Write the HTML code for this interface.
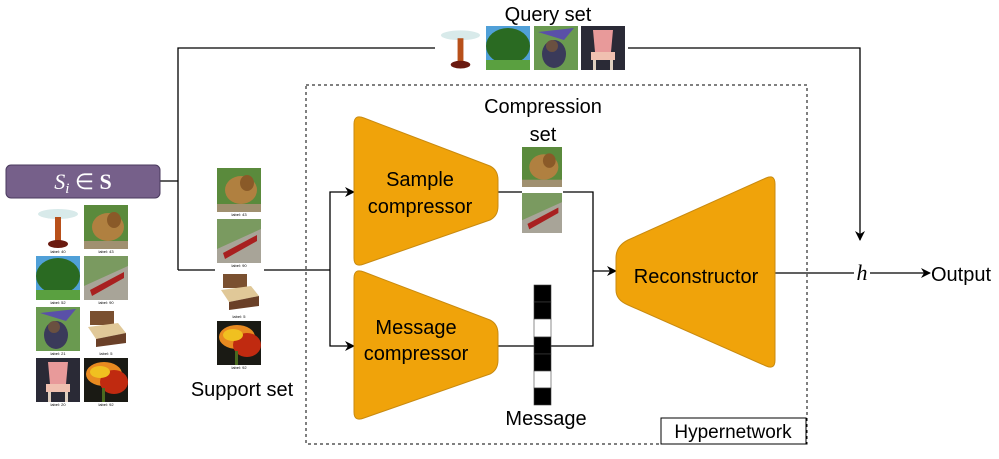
<!DOCTYPE html>
<html><head><meta charset="utf-8"><style>
html,body{margin:0;padding:0;background:#fff;width:999px;height:459px;overflow:hidden}
svg{display:block}
text{font-family:"Liberation Sans",sans-serif;fill:#000}
</style></head><body>
<svg width="999" height="459" viewBox="0 0 999 459" xmlns="http://www.w3.org/2000/svg">
<defs>
<marker id="ar" viewBox="0 0 10 10" refX="9" refY="5" markerWidth="10" markerHeight="10" orient="auto" markerUnits="userSpaceOnUse"><path d="M0,0 L10,5 L0,10 L3,5 z" fill="#000"/></marker>
<symbol id="lion" viewBox="0 0 44 44"><rect width="44" height="44" fill="#5a8a3c"/><ellipse cx="24" cy="22" rx="16" ry="14" fill="#b08040"/><ellipse cx="30" cy="15" rx="7" ry="8" fill="#8a5a28"/><rect y="36" width="44" height="8" fill="#a09070"/></symbol>
<symbol id="train" viewBox="0 0 44 44"><rect width="44" height="44" fill="#7a9a60"/><polygon points="0,30 44,10 44,44 0,44" fill="#a8a498"/><polygon points="6,34 40,16 40,22 8,40" fill="#a82020"/></symbol>
<symbol id="lamp" viewBox="0 0 44 44"><rect width="44" height="44" fill="#fff"/><ellipse cx="22" cy="9" rx="20" ry="5" fill="#d8eaea"/><rect x="19" y="12" width="6" height="24" fill="#b8501a"/><ellipse cx="22" cy="39" rx="10" ry="4" fill="#6a1a10"/></symbol>
<symbol id="tree" viewBox="0 0 44 44"><rect width="44" height="44" fill="#50a0d8"/><ellipse cx="22" cy="20" rx="22" ry="18" fill="#2a6a22"/><rect y="34" width="44" height="10" fill="#5aa040"/></symbol>
<symbol id="chimp" viewBox="0 0 44 44"><rect width="44" height="44" fill="#6a9a50"/><polygon points="4,6 40,2 30,14" fill="#5a50a8"/><ellipse cx="20" cy="28" rx="12" ry="14" fill="#3a3a5a"/><circle cx="18" cy="20" r="6" fill="#6a5040"/></symbol>
<symbol id="bed" viewBox="0 0 44 44"><rect width="44" height="44" fill="#fff"/><rect x="6" y="4" width="24" height="14" fill="#7a5030"/><polygon points="4,20 34,16 42,26 12,32" fill="#e0c898"/><polygon points="12,32 42,26 42,36 12,40" fill="#6a4028"/></symbol>
<symbol id="chair" viewBox="0 0 44 44"><rect width="44" height="44" fill="#2a2a36"/><polygon points="12,4 32,4 30,26 14,26" fill="#e89a9a"/><rect x="10" y="26" width="24" height="8" fill="#f0c0b0"/><rect x="12" y="34" width="3" height="10" fill="#e0d0c0"/><rect x="29" y="34" width="3" height="10" fill="#e0d0c0"/></symbol>
<symbol id="flower" viewBox="0 0 44 44"><rect width="44" height="44" fill="#1a1a14"/><ellipse cx="20" cy="16" rx="18" ry="12" fill="#e88a20"/><ellipse cx="30" cy="24" rx="14" ry="12" fill="#c02a10"/><ellipse cx="16" cy="14" rx="10" ry="6" fill="#f0c020"/><rect x="18" y="30" width="3" height="14" fill="#4a6a20"/></symbol>
</defs>

<g stroke="#000" stroke-width="1.3" fill="none">
<polyline points="160,181 178,181"/>
<polyline points="178,270 178,48 435,48"/>
<polyline points="628,48 860,48 860,240" marker-end="url(#ar)"/>
<polyline points="178,270 215,270"/>
<polyline points="264,270 330,270"/>
<polyline points="330,270 330,192 354,192" marker-end="url(#ar)"/>
<polyline points="330,270 330,346 354,346" marker-end="url(#ar)"/>
<polyline points="498,192 522,192"/>
<polyline points="563,192 593,192 593,346 498,346"/>
<polyline points="593,271 616,271" marker-end="url(#ar)"/>
<polyline points="775,273 854,273"/>
<polyline points="870,273 930,273" marker-end="url(#ar)"/>
</g>

<rect x="306" y="85" width="501" height="359" fill="none" stroke="#000" stroke-width="1" stroke-dasharray="3,3"/>
<rect x="661" y="418" width="145" height="26" fill="#fff" stroke="#000" stroke-width="1"/>
<text x="733" y="438" font-size="19" text-anchor="middle">Hypernetwork</text>

<rect x="6" y="165" width="154" height="33" rx="5" fill="#76608a" stroke="#4a3a5e" stroke-width="1"/>
<text x="83" y="189" font-size="22" text-anchor="middle" style="fill:#fff;font-family:'Liberation Serif',serif"><tspan font-style="italic">S</tspan><tspan font-style="italic" font-size="15" dy="4">i</tspan><tspan dy="-4"> ∈ </tspan><tspan font-weight="bold">S</tspan></text>

<use href="#lamp" x="36" y="205" width="44" height="44"/><use href="#lion" x="84" y="205" width="44" height="44"/>
<use href="#tree" x="36" y="256" width="44" height="44"/><use href="#train" x="84" y="256" width="44" height="44"/>
<use href="#chimp" x="36" y="307" width="44" height="44"/><use href="#bed" x="84" y="307" width="44" height="44"/>
<use href="#chair" x="36" y="358" width="44" height="44"/><use href="#flower" x="84" y="358" width="44" height="44"/>
<g font-size="4" text-anchor="middle">
<text x="58" y="253">label: 40</text><text x="106" y="253">label: 43</text>
<text x="58" y="304">label: 52</text><text x="106" y="304">label: 90</text>
<text x="58" y="355">label: 21</text><text x="106" y="355">label: 5</text>
<text x="58" y="406">label: 20</text><text x="106" y="406">label: 92</text>
</g>

<use href="#lion" x="217" y="168" width="44" height="44"/>
<use href="#train" x="217" y="219" width="44" height="44"/>
<use href="#bed" x="217" y="270" width="44" height="44"/>
<use href="#flower" x="217" y="321" width="44" height="44"/>
<g font-size="4" text-anchor="middle">
<text x="239" y="216">label: 43</text><text x="239" y="267">label: 90</text><text x="239" y="318">label: 5</text><text x="239" y="369">label: 92</text>
</g>
<text x="242" y="396" font-size="20" text-anchor="middle">Support set</text>

<text x="548" y="21" font-size="20" text-anchor="middle">Query set</text>
<use href="#lamp" x="439" y="26" width="43" height="44"/>
<use href="#tree" x="486" y="26" width="44" height="44"/>
<use href="#chimp" x="534" y="26" width="44" height="44"/>
<use href="#chair" x="581" y="26" width="44" height="44"/>

<path d="M354,124 Q354,114 364,118 L490,166 Q498,170 498,180 L498,206 Q498,216 490,220 L364,264 Q354,268 354,258 Z" fill="#f0a30a" stroke="#c88a10" stroke-width="1"/>
<text x="420" y="186" font-size="20" text-anchor="middle">Sample</text>
<text x="420" y="213" font-size="20" text-anchor="middle">compressor</text>
<path d="M354,278 Q354,268 364,272 L490,320 Q498,324 498,334 L498,360 Q498,370 490,374 L364,418 Q354,422 354,412 Z" fill="#f0a30a" stroke="#c88a10" stroke-width="1"/>
<text x="416" y="334" font-size="20" text-anchor="middle">Message</text>
<text x="416" y="360" font-size="20" text-anchor="middle">compressor</text>

<text x="543" y="113" font-size="20" text-anchor="middle">Compression</text>
<text x="543" y="141" font-size="20" text-anchor="middle">set</text>
<use href="#lion" x="522" y="147" width="40" height="40"/>
<use href="#train" x="522" y="193" width="40" height="40"/>

<g stroke="#444" stroke-width="0.6">
<rect x="534" y="285" width="17" height="17" fill="#000"/>
<rect x="534" y="302" width="17" height="17" fill="#000"/>
<rect x="534" y="319" width="17" height="18" fill="#fff"/>
<rect x="534" y="337" width="17" height="17" fill="#000"/>
<rect x="534" y="354" width="17" height="17" fill="#000"/>
<rect x="534" y="371" width="17" height="17" fill="#fff"/>
<rect x="534" y="388" width="17" height="17" fill="#000"/>
</g>
<text x="546" y="425" font-size="20" text-anchor="middle">Message</text>

<path d="M616,258 Q616,246 628,240 L766,178 Q775,174 775,184 L775,360 Q775,370 766,366 L628,305 Q616,300 616,290 Z" fill="#f0a30a" stroke="#c88a10" stroke-width="1"/>
<text x="696" y="283" font-size="20" text-anchor="middle">Reconstructor</text>

<text x="862" y="280" font-size="22" font-style="italic" text-anchor="middle" style="font-family:'Liberation Serif',serif">h</text>
<text x="931" y="281" font-size="20">Output</text>
</svg>
</body></html>
